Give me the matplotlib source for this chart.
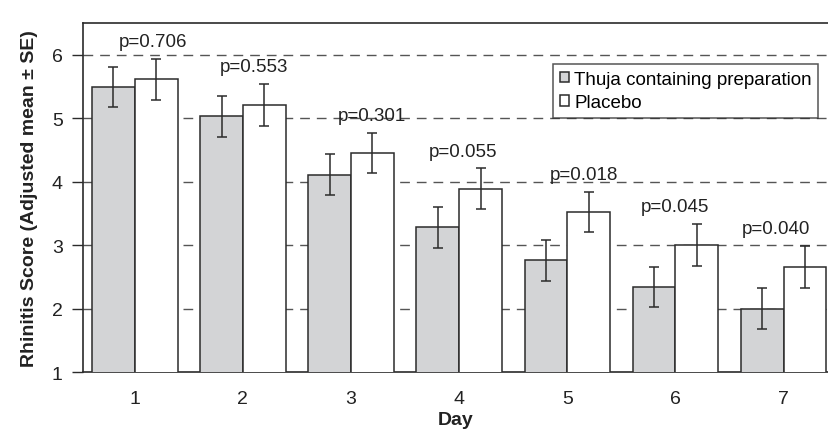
import numpy as np
from matplotlib import pyplot as plt

days = [1, 2, 3, 4, 5, 6, 7]
thuja_mean = [5.49, 5.03, 4.11, 3.28, 2.76, 2.34, 2.00]
thuja_se = [0.32, 0.32, 0.32, 0.32, 0.32, 0.32, 0.32]
placebo_mean = [5.61, 5.21, 4.45, 3.89, 3.52, 3.00, 2.66]
placebo_se = [0.32, 0.33, 0.32, 0.32, 0.32, 0.33, 0.33]
p_values = ["p=0.706", "p=0.553", "p=0.301", "p=0.055", "p=0.018", "p=0.045", "p=0.040"]
p_shift = [0.17, 0.10, 0.19, 0.04, 0.15, 0.0, -0.07]

plt.rcParams['font.family'] = ['Liberation Sans', 'DejaVu Sans']

fig = plt.figure(figsize=(8.29, 4.35), dpi=100)
ax = fig.add_axes([0.100, 0.1425, 0.90, 0.8025])

x = np.array(days)
w = 0.395
edge = "#2b2b2b"
ebar = dict(ecolor=edge, elinewidth=1.1, capsize=3.5, capthick=1.1)
ax.bar(x - w / 2, thuja_mean, w, color="#d3d4d6", edgecolor=edge,
       linewidth=1.1, yerr=thuja_se, error_kw=ebar, zorder=3,
       label="Thuja containing preparation")
ax.bar(x + w / 2, placebo_mean, w, color="white", edgecolor=edge,
       linewidth=1.1, yerr=placebo_se, error_kw=ebar, zorder=3,
       label="Placebo")

# p-values sit just above the placebo error bar
for d, m, se, txt, s in zip(days, placebo_mean, placebo_se, p_values, p_shift):
    ax.text(d + s, m + se + 0.27, txt, ha="center", va="center", fontsize=13.5,
            color="#222222", zorder=4)

for g in [2, 3, 4, 5, 6]:
    ax.axhline(g, color="#555555", lw=1.0, dashes=(7, 5), zorder=1)

ax.set_xlim(0.52, 7.42)
ax.set_ylim(1, 6.5)
ax.set_yticks([1, 2, 3, 4, 5, 6])
ax.set_xticks(days)
ax.tick_params(axis="y", direction="out", length=8, width=1, pad=6.5,
               labelsize=14, color=edge, labelcolor="#222222")
ax.tick_params(axis="x", length=0, pad=13, labelsize=14, labelcolor="#222222")
ax.spines["right"].set_visible(False)
for sp in ["left", "top", "bottom"]:
    ax.spines[sp].set_color(edge)
    ax.spines[sp].set_linewidth(1.2)

ax.set_xlabel("Day", fontsize=14, fontweight="bold", labelpad=3, color="#222222")
ax.set_ylabel("Rhinitis Score (Adjusted mean \u00b1 SE)", fontsize=14,
              fontweight="bold", labelpad=10, color="#222222")

leg = ax.legend(loc="upper left", bbox_to_anchor=(0.63, 0.8825), borderaxespad=0,
                fontsize=13.5, fancybox=False, frameon=True, handlelength=0.48,
                handleheight=0.48, handletextpad=0.3, borderpad=0.35,
                labelspacing=0.35)
leg.get_frame().set_edgecolor(edge)
leg.get_frame().set_linewidth(1.1)
leg.set_zorder(5)

fig.savefig("out.png", dpi=100)
